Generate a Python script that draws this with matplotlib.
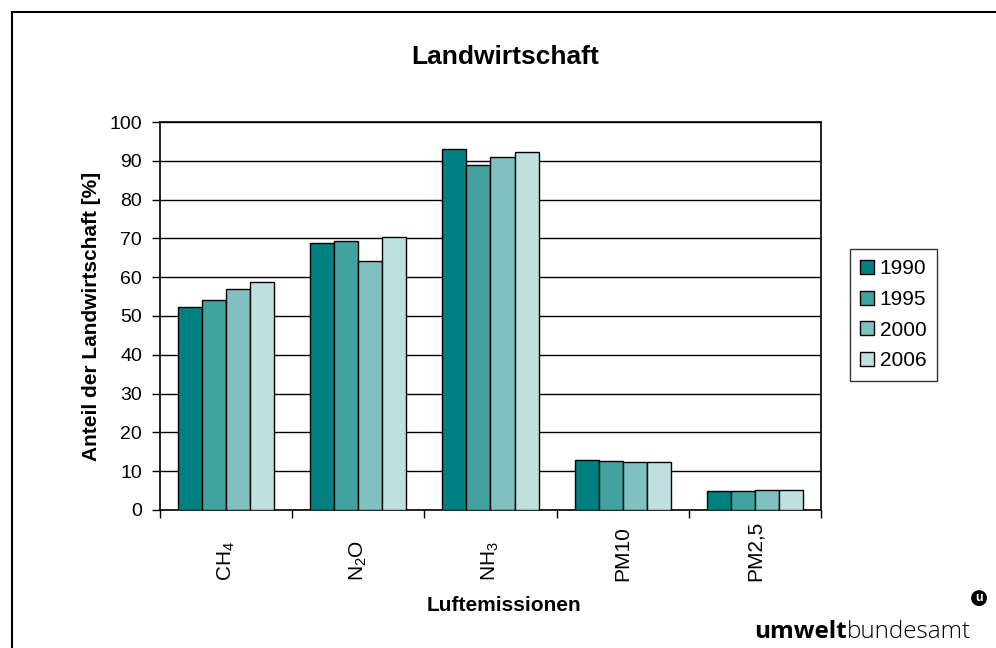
import numpy as np
import matplotlib.pyplot as plt
from matplotlib.lines import Line2D

plt.rcParams['font.family'] = ['Liberation Sans', 'DejaVu Sans']
plt.rcParams['mathtext.fontset'] = 'custom'
plt.rcParams['mathtext.rm'] = 'Liberation Sans'
plt.rcParams['mathtext.it'] = 'Liberation Sans'

# Anteil der Landwirtschaft an den Luftemissionen [%]
categories = [r'CH$_4$', r'N$_2$O', r'NH$_3$', 'PM10', 'PM2,5']
years = ['1990', '1995', '2000', '2006']
v1990 = [52.4, 68.7, 93.0, 12.9, 4.9]
v1995 = [54.0, 69.4, 88.9, 12.6, 4.9]
v2000 = [56.9, 64.3, 90.9, 12.3, 5.1]
v2006 = [58.8, 70.3, 92.4, 12.3, 5.1]
colors = ['#008080', '#42a2a0', '#80c0c0', '#c0e0e0']

series = [v1990, v1995, v2000, v2006]

fig = plt.figure(figsize=(9.96, 6.48), dpi=100)
ax = fig.add_axes([0.1606, 0.213, 0.6637, 0.5987])

x = np.arange(len(categories))
w = 1 / 5.5
for i, (vals, col, yr) in enumerate(zip(series, colors, years)):
    ax.bar(x + (i - 1.5) * w, vals, width=w, color=col, edgecolor='black',
           linewidth=1, label=yr, zorder=3)

ax.set_xlim(-0.5, len(categories) - 0.5)
ax.set_ylim(0, 100)
ax.set_yticks(range(0, 101, 10))
ax.yaxis.grid(True, color='black', linewidth=1, zorder=0)
ax.set_axisbelow(True)

# tick marks between the groups
ax.set_xticks(np.arange(-0.5, len(categories), 1))
ax.set_xticklabels([])
ax.tick_params(axis='x', length=6, width=1, direction='out')
ax.tick_params(axis='y', length=6, width=1, direction='out', labelsize=14, pad=7)

# rotated category labels, bottom aligned
for xi, cat in zip(x, categories):
    ax.text(xi, -0.184, cat, rotation=90, ha='center', va='bottom', fontsize=15,
            transform=ax.get_xaxis_transform())

for s in ax.spines.values():
    s.set_linewidth(1.2)

ax.set_ylabel('Anteil der Landwirtschaft [%]', fontsize=15, fontweight='bold', labelpad=6)
fig.text(0.506, 0.065, 'Luftemissionen', ha='center', va='center',
         fontsize=15, fontweight='bold')
fig.text(0.507, 0.912, 'Landwirtschaft', ha='center', va='center',
         fontsize=19, fontweight='bold')

leg = ax.legend(loc='center left', bbox_to_anchor=(1.028, 0.503), fontsize=15,
                frameon=True, fancybox=False, edgecolor='black',
                handlelength=0.67, handleheight=0.67, handletextpad=0.25,
                labelspacing=0.56, borderpad=0.5)
leg.get_frame().set_linewidth(1)
for h in leg.legend_handles:
    h.set_edgecolor('black')

# logo
t1 = fig.text(0.757, 0.006, 'umwelt', fontsize=17.5, fontweight='bold',
              family='Open Sans', ha='left', va='bottom')
ax.annotate('bundesamt', xy=(1, 0), xycoords=t1, fontsize=17.5,
            family='Open Sans', fontweight='light', ha='left', va='bottom',
            annotation_clip=False)
fig.text(0.983, 0.077, 'u', fontsize=9, fontweight='bold', color='white',
         ha='center', va='center',
         bbox=dict(boxstyle='circle,pad=0.1', fc='black', ec='black'))

# frame of the chart area (top and left edges)
fig.add_artist(Line2D([12 / 996, 1], [1 - 12 / 648] * 2, transform=fig.transFigure,
                      color='black', linewidth=1.5))
fig.add_artist(Line2D([12 / 996] * 2, [0, 1 - 12 / 648], transform=fig.transFigure,
                      color='black', linewidth=1.5))

fig.savefig('out.png', dpi=100)
